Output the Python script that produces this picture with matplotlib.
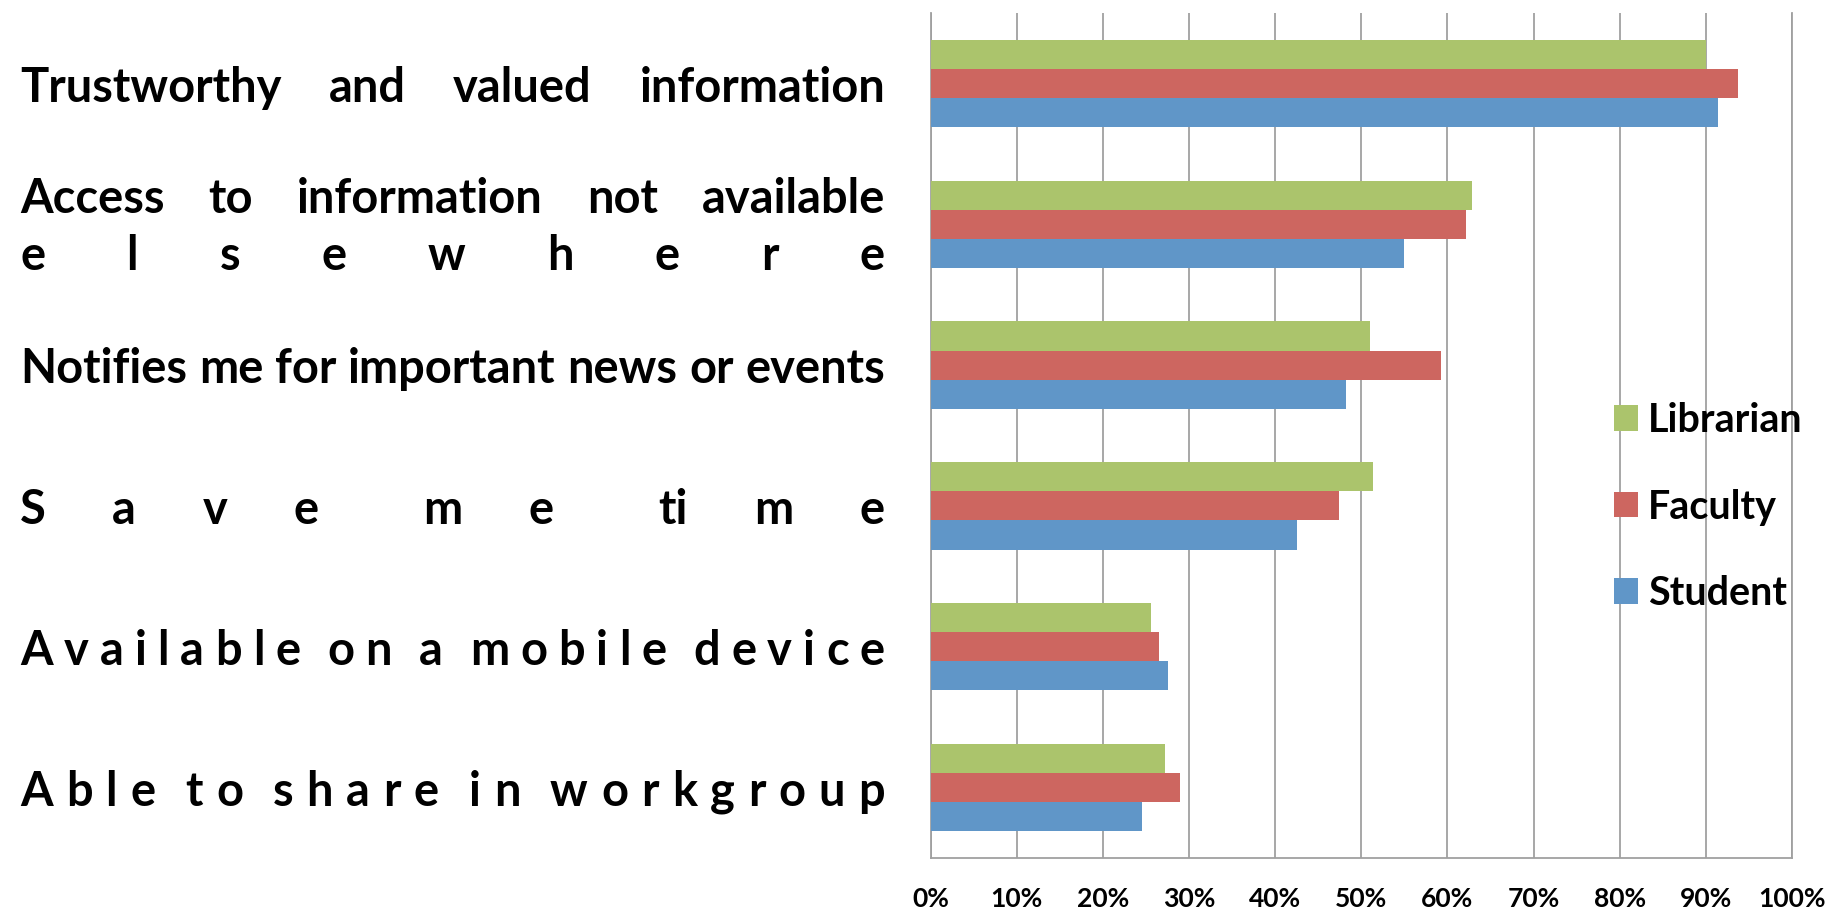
import re
import numpy as np
import matplotlib
matplotlib.use('Agg')
import matplotlib.pyplot as plt
from matplotlib.font_manager import FontProperties
from matplotlib import transforms

# data (percent)
categories = ['Trustworthy and valued information',
              'Access to information not available\nelsewhere',
              'Notifies me for important news or events',
              'Save me time',
              'Available on a mobile device',
              'Able to share in workgroup']
# how each label line is spread over the label column (Word-style justify)
label_modes = [['words'], ['words', 'chars'], ['words'], ['chars'], ['chars'], ['chars']]
series = ['Librarian', 'Faculty', 'Student']
librarian = [90.0, 62.9, 51.0, 51.4, 25.6, 27.2]
faculty = [93.7, 62.2, 59.2, 47.4, 26.5, 29.0]
student = [91.4, 55.0, 48.2, 42.6, 27.6, 24.6]
xticks = list(range(0, 101, 10))
colors = ['#abc46c', '#cd6660', '#6096c8']

W, H = 1830, 911
fig = plt.figure(figsize=(W / 100, H / 100), dpi=100)
ax = fig.add_axes([930.5 / W, 1 - 858 / H, (1792 - 930.5) / W, (858 - 13) / H])
renderer = fig.canvas.get_renderer()


def text_w(s, prop):
    w, h, d = renderer.get_text_width_height_descent(s, prop, ismath=False)
    return w


def adv(s, prop):
    if not s:
        return 0.0
    return text_w('|' + s + '|', prop) - text_w('||', prop)


def fit_size(s, target):
    p = FontProperties(family='Lato', weight='bold', size=10)
    return 10 * target / text_w(s, p)


lab_prop = FontProperties(family='Lato', weight='bold',
                          size=fit_size('Notifies me for important news or events', 865))
leg_fs = fit_size('Librarian', 155)
tick_fs = fit_size('100%', 68)

# bars
y = np.arange(len(categories))
h = 0.207
bars = []
for vals, off, col, name in zip([librarian, faculty, student], [-h, 0, h], colors, series):
    bars.append(ax.barh(y + off, vals, height=h, color=col, label=name, zorder=3))

ax.set_xlim(0, 100)
ax.set_ylim(len(categories) - 0.5, -0.5)
ax.set_yticks([])
ax.set_xticks(xticks)
ax.set_xticklabels([f'{t}%' for t in xticks], fontfamily='Lato', fontweight='bold')
ax.grid(axis='x', color='#a0a0a0', lw=1.3)
ax.set_axisbelow(True)
ax.spines['top'].set_visible(False)
for s in ['left', 'bottom', 'right']:
    ax.spines[s].set_color('#a0a0a0')
    ax.spines[s].set_linewidth(1.3)
ax.tick_params(axis='x', length=0, pad=21, labelsize=tick_fs)

# category labels, justified between x=20 and x=885 px
blend = transforms.blended_transform_factory(fig.transFigure, ax.transData)


def draw_line(line, mode, ybase):
    x0, x1 = 20, 885
    if mode == 'words':
        units = re.findall(r'\S+|\s', line)
        weights = [1.0 if u == ' ' else 0.0 for u in units]
    else:
        units = re.findall(r'ti|.', line)
        weights = [0.4 if u == ' ' else 1.0 for u in units]
    wsum = sum(weights[:-1])
    extra = (x1 - x0 - text_w(line, lab_prop)) / wsum if wsum else 0
    prefix = ''
    for k, u in enumerate(units):
        if u != ' ':
            xpx = x0 + adv(prefix, lab_prop) + extra * sum(weights[:k])
            fig.text(xpx / W, ybase, u, transform=blend, fontproperties=lab_prop,
                     ha='left', va='baseline')
        prefix += u


for i, (cat, modes) in enumerate(zip(categories, label_modes)):
    lines = cat.split('\n')
    if len(lines) == 1:
        draw_line(lines[0], modes[0], i + 0.129)
    else:
        draw_line(lines[0], modes[0], i - 0.078)
        draw_line(lines[1], modes[1], i + 0.326)

# legend
leg_prop = FontProperties(family='Lato', weight='bold', size=leg_fs)
fs_px = leg_fs * 100 / 72
_, lp_h, _ = renderer.get_text_width_height_descent('lp', leg_prop, ismath=False)
ax.legend(handles=bars, labels=series, prop=leg_prop, frameon=False,
          loc='center left', bbox_to_anchor=(1614 / W, 1 - 507 / H),
          bbox_transform=fig.transFigure, borderpad=0, borderaxespad=0,
          handlelength=24 / fs_px, handleheight=24 / fs_px,
          handletextpad=10 / fs_px, labelspacing=(86.5 - lp_h) / fs_px)

fig.savefig('out.png', dpi=100)
